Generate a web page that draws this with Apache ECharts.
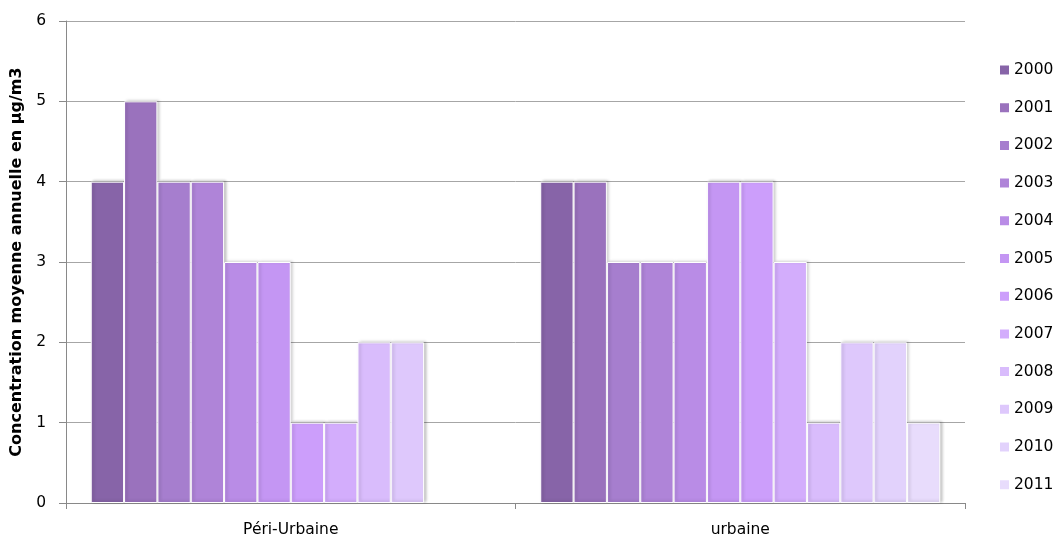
<!DOCTYPE html>
<html>
<head>
<meta charset="utf-8">
<script src="https://cdn.jsdelivr.net/npm/echarts@6/dist/echarts.min.js"></script>
<style>
  html, body { margin: 0; padding: 0; background: #fff; }
  #chart { width: 1058px; height: 538px; }
</style>
</head>
<body>
<div id="chart"></div>
<script>
// Sites de mesure
const categories = ['Péri-Urbaine', 'urbaine'];

// Années (une série par année)
const years = ['2000', '2001', '2002', '2003', '2004', '2005',
               '2006', '2007', '2008', '2009', '2010', '2011'];

// Concentrations moyennes annuelles (µg/m3) : [Péri-Urbaine, urbaine]
const v2000 = [4, 4];
const v2001 = [5, 4];
const v2002 = [4, 3];
const v2003 = [4, 3];
const v2004 = [3, 3];
const v2005 = [3, 4];
const v2006 = [1, 4];
const v2007 = [1, 3];
const v2008 = [2, 1];
const v2009 = [2, 2];
const v2010 = [null, 2];
const v2011 = [null, 1];
const values = [v2000, v2001, v2002, v2003, v2004, v2005,
                v2006, v2007, v2008, v2009, v2010, v2011];

const yTicks = [0, 1, 2, 3, 4, 5, 6];

// Dégradé de violets, du plus foncé au plus clair
const colors = ['#8764A8', '#9A72BD', '#A67ECE', '#AF84D8', '#B98CE6', '#C496F3',
                '#CC9EFB', '#D3ADFC', '#D9BCFC', '#DEC8FC', '#E2D2FC', '#E8DCFC'];

const FONT = 'DejaVu Sans, Verdana, sans-serif';

const chart = echarts.init(document.getElementById('chart'), null, { renderer: 'canvas' });

const series = years.map((y, i) => ({
  name: y,
  type: 'bar',
  data: values[i],
  barGap: '0%',
  barCategoryGap: '11%',
  itemStyle: {
    color: colors[i],
    borderColor: '#ffffff',
    borderWidth: 1,
    shadowColor: 'rgba(0,0,0,0.22)',
    shadowBlur: 3,
    shadowOffsetX: 2,
    shadowOffsetY: -1
  },
  emphasis: { disabled: true }
}));

chart.setOption({
  animation: false,
  textStyle: { fontFamily: FONT },
  grid: { left: 66, right: 93, top: 21, bottom: 35, containLabel: false, outerBoundsMode: 'none' },
  legend: {
    orient: 'vertical',
    left: 998,
    top: 62,
    padding: 0,
    itemWidth: 11,
    itemHeight: 11,
    itemGap: 21.7,
    icon: 'rect',
    textStyle: { fontSize: 15.5, lineHeight: 16, color: '#000', fontFamily: FONT, padding: [0, 0, 0, -1] },
    data: years
  },
  xAxis: {
    type: 'category',
    data: categories,
    axisLine: { lineStyle: { color: '#898989', width: 1 } },
    axisTick: { show: true, length: 6, lineStyle: { color: '#898989' } },
    axisLabel: { fontSize: 15.5, color: '#000', margin: 19, fontFamily: FONT }
  },
  yAxis: {
    type: 'value',
    min: 0,
    max: 6,
    interval: 1,
    name: 'Concentration moyenne annuelle en µg/m3',
    nameLocation: 'middle',
    nameGap: 39,
    nameRotate: 90,
    nameTextStyle: { fontSize: 16, fontWeight: 'bold', color: '#000', fontFamily: FONT },
    axisLine: { show: true, lineStyle: { color: '#898989', width: 1 } },
    axisTick: { show: true, length: 7, lineStyle: { color: '#898989' } },
    axisLabel: {
      fontSize: 15.5, color: '#000', margin: 20, fontFamily: FONT,
      formatter: v => (yTicks.includes(v) ? String(v) : '')
    },
    splitLine: { lineStyle: { color: '#A6A6A6', width: 1 } }
  },
  series: series
});
</script>
</body>
</html>
